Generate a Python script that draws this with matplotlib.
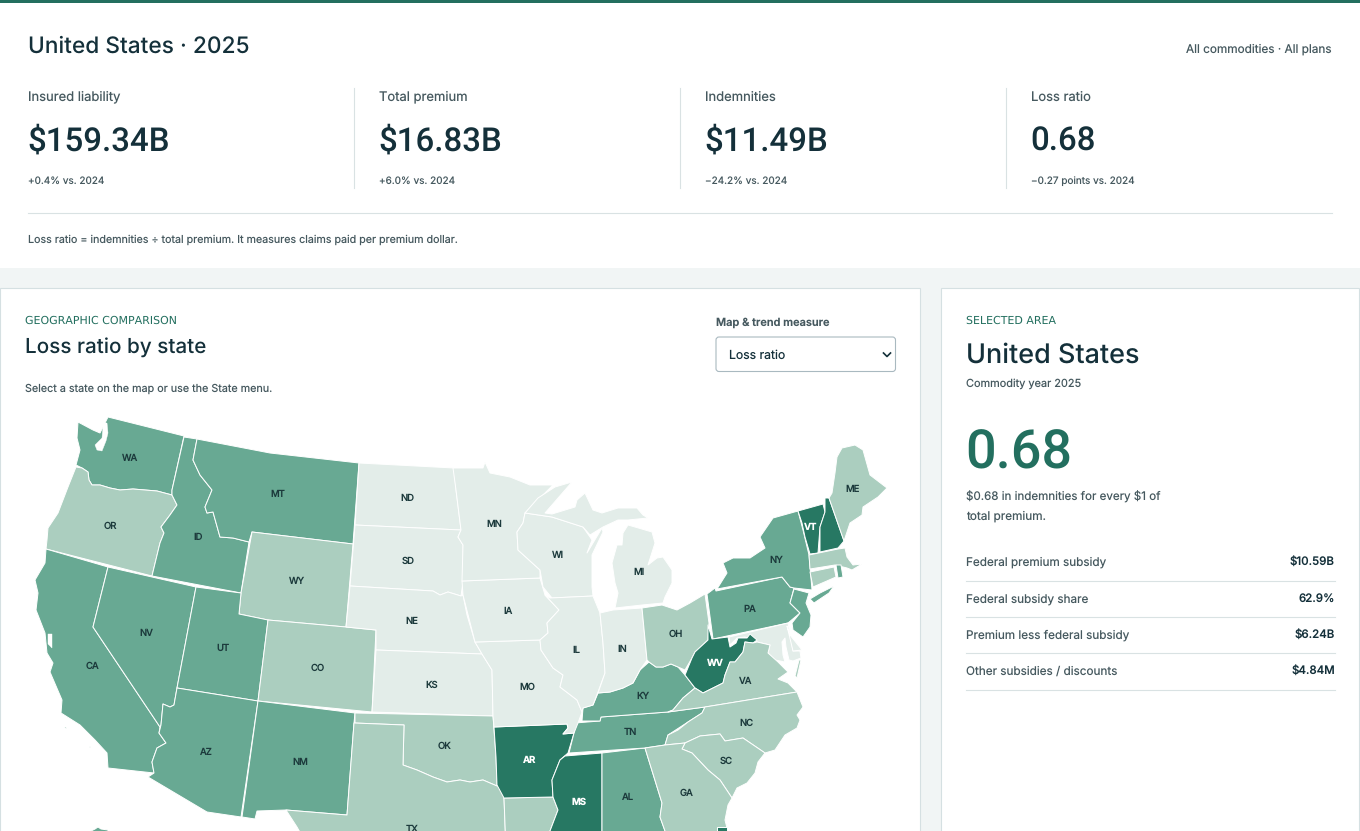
import matplotlib
matplotlib.use("Agg")
import matplotlib.pyplot as plt
from matplotlib.patches import FancyBboxPatch, Polygon, Rectangle

plt.rcParams["font.family"] = ["Inter", "DejaVu Sans"]
plt.rcParams["text.hinting"] = "none"
plt.rcParams["text.hinting_factor"] = 1

# page text and values
page_title = "United States · 2025"
page_scope = "All commodities · All plans"
kpi_labels = ["Insured liability", "Total premium", "Indemnities", "Loss ratio"]
kpi_values = ["$159.34B", "$16.83B", "$11.49B", "0.68"]
kpi_changes = ["+0.4% vs. 2024", "+6.0% vs. 2024", "−24.2% vs. 2024", "−0.27 points vs. 2024"]
kpi_note = "Loss ratio = indemnities ÷ total premium. It measures claims paid per premium dollar."
detail_labels = ["Federal premium subsidy", "Federal subsidy share", "Premium less federal subsidy", "Other subsidies / discounts"]
detail_values = ["$10.59B", "62.9%", "$6.24B", "$4.84M"]

# colour class of each state on the loss ratio scale
class_colors = ["#e3ede9", "#abcebf", "#68a993", "#277863"]
state_class = {
    "ND": 0, "SD": 0, "NE": 0, "KS": 0, "MN": 0, "IA": 0, "MO": 0, "WI": 0, "IL": 0, "IN": 0, "MI": 0, "UP": 0,
    "MD": 0, "DE": 0, "VES": 1,
    "OR": 1, "WY": 1, "CO": 1, "OK": 1, "TX": 1, "LA": 1, "OH": 1, "VA": 1, "NC": 1, "SC": 1, "GA": 1, "ME": 1,
    "MA": 1, "CT": 1,
    "WA": 2, "MT": 2, "ID": 2, "NV": 2, "CA": 2, "UT": 2, "AZ": 2, "NM": 2, "KY": 2, "TN": 2, "AL": 2, "PA": 2,
    "NY": 2, "LI": 2, "NJ": 2, "RI": 2, "AK": 2, "CI1": 2, "CI2": 2,
    "AR": 3, "MS": 3, "WV": 3, "VT": 3, "NH": 3, "FL": 3,
}

# outlines, in map units
state_shapes = {
    "WA": [(108, 417), (184, 436), (172, 490), (172, 495), (157, 491), (133, 489), (120, 490), (110, 488), (100, 485), (92, 485), (89, 480), (88, 472), (82, 468), (76, 465), (80, 450), (77, 438), (78, 422), (93, 430), (100, 433)],
    "OR": [(76, 467), (82, 468), (88, 472), (89, 480), (92, 485), (100, 485), (110, 488), (120, 490), (133, 489), (157, 491), (172, 495), (177, 505), (170, 515), (161, 527), (164, 533), (160, 543), (152, 576), (46, 549), (47, 540), (48, 528), (58, 513), (68, 487)],
    "CA": [(46, 549), (108, 567), (93, 627), (160, 727), (159, 733), (166, 743), (157, 748), (152, 762), (154, 773), (108, 768), (107, 753), (95, 740), (80, 725), (61, 713), (62, 700), (50, 672), (53, 663), (47, 653), (45, 633), (36, 610), (38, 593), (35, 580), (45, 563)],
    "NV": [(108, 567), (196, 587), (177, 688), (174, 705), (170, 707), (163, 704), (161, 725), (160, 727), (93, 627)],
    "ID": [(184, 437), (197, 439), (193, 460), (200, 475), (212, 490), (205, 507), (207, 513), (213, 512), (220, 537), (233, 538), (249, 542), (241, 593), (152, 576), (160, 543), (164, 533), (161, 527), (170, 515), (177, 505), (172, 495), (172, 490)],
    "MT": [(197, 439), (270, 453), (359, 463), (353, 544), (252, 532), (249, 542), (233, 538), (220, 537), (213, 512), (207, 513), (205, 507), (212, 490), (200, 475), (193, 460)],
    "WY": [(252, 532), (353, 544), (346, 627), (268, 620), (239, 614), (241, 593)],
    "UT": [(196, 587), (241, 593), (239, 614), (268, 620), (258, 701), (177, 688)],
    "CO": [(268, 620), (346, 627), (376, 630), (372, 712), (258, 701)],
    "AZ": [(177, 688), (258, 701), (241, 817), (207, 812), (148, 777), (154, 773), (152, 762), (157, 748), (166, 743), (159, 733), (161, 725), (163, 704), (170, 707), (174, 705)],
    "NM": [(258, 701), (355, 713), (354, 723), (347, 815), (286, 810), (257, 811), (255, 819), (242, 817)],
    "ND": [(359, 463), (454, 468), (456, 490), (461, 530), (355, 525)],
    "SD": [(355, 525), (461, 530), (458, 537), (463, 545), (463, 582), (461, 596), (448, 592), (440, 595), (433, 591), (350, 586)],
    "NE": [(350, 586), (433, 591), (440, 595), (448, 592), (461, 596), (463, 595), (467, 615), (475, 642), (482, 654), (376, 650), (376, 630), (346, 627)],
    "KS": [(376, 650), (482, 654), (487, 662), (492, 670), (493, 716), (372, 712)],
    "OK": [(355, 713), (493, 716), (496, 757), (497, 786), (483, 780), (470, 782), (460, 780), (447, 782), (433, 777), (417, 770), (403, 765), (404, 725), (355, 723)],
    "TX": [(354, 723), (404, 725), (403, 765), (417, 770), (433, 777), (447, 782), (460, 780), (470, 782), (483, 780), (497, 786), (503, 788), (504, 798), (506, 850), (310, 850), (297, 827), (286, 810), (347, 815)],
    "LA": [(504, 798), (553, 797), (558, 810), (550, 831), (548, 850), (506, 850)],
    "AR": [(494, 727), (567, 724), (568, 728), (563, 734), (574, 733), (568, 753), (560, 760), (552, 780), (553, 797), (504, 798), (497, 785), (496, 757)],
    "MS": [(565, 756), (602, 753), (602, 850), (545, 850), (550, 831), (558, 810), (553, 797), (552, 780), (560, 760)],
    "AL": [(602, 753), (645, 748), (662, 803), (660, 817), (665, 831), (665, 850), (602, 850)],
    "TN": [(575, 723), (600, 721), (601, 717), (668, 712), (705, 707), (702, 713), (688, 722), (668, 735), (665, 745), (645, 748), (569, 753), (574, 733)],
    "KY": [(582, 721), (583, 708), (593, 705), (598, 693), (610, 692), (623, 688), (633, 683), (640, 670), (649, 662), (656, 667), (663, 667), (671, 664), (678, 667), (685, 675), (695, 688), (683, 698), (673, 710), (668, 712), (601, 717), (600, 721)],
    "MO": [(475, 642), (540, 640), (541, 650), (553, 668), (563, 675), (560, 687), (577, 700), (582, 712), (578, 723), (574, 733), (563, 734), (568, 728), (567, 724), (494, 727), (493, 716), (492, 670), (487, 662), (482, 654)],
    "IA": [(462, 581), (540, 578), (545, 595), (559, 610), (547, 623), (548, 633), (540, 640), (475, 642), (463, 595)],
    "MN": [(453, 468), (483, 468), (485, 462), (490, 473), (510, 477), (530, 485), (553, 485), (525, 513), (523, 523), (517, 532), (518, 550), (540, 570), (540, 578), (462, 581), (463, 545), (458, 537), (461, 530), (456, 490)],
    "WI": [(525, 513), (552, 517), (583, 527), (590, 537), (592, 540), (587, 553), (602, 528), (603, 532), (592, 555), (592, 567), (592, 587), (593, 596), (552, 598), (543, 587), (540, 570), (518, 550), (517, 532), (523, 523)],
    "UP": [(525, 513), (538, 498), (555, 487), (572, 482), (552, 505), (545, 513), (552, 514), (575, 507), (577, 500), (585, 493), (593, 510), (602, 513), (618, 508), (637, 508), (643, 515), (648, 518), (628, 520), (618, 520), (603, 527), (590, 535), (583, 527), (552, 517)],
    "MI": [(628, 525), (635, 527), (652, 532), (655, 543), (648, 565), (657, 558), (663, 557), (672, 570), (672, 583), (665, 597), (663, 603), (642, 605), (615, 608), (618, 593), (615, 583), (612, 563), (617, 545), (622, 545), (623, 533)],
    "IL": [(550, 598), (593, 596), (600, 613), (603, 643), (605, 673), (598, 692), (593, 705), (583, 708), (582, 712), (577, 700), (560, 687), (563, 675), (553, 668), (541, 650), (540, 640), (548, 633), (547, 623), (559, 610), (545, 595)],
    "IN": [(600, 613), (613, 610), (642, 608), (647, 660), (640, 670), (633, 683), (623, 688), (610, 692), (598, 693), (605, 673), (603, 643)],
    "OH": [(642, 608), (662, 605), (677, 610), (690, 603), (705, 594), (709, 623), (708, 640), (695, 652), (692, 658), (685, 670), (678, 667), (671, 664), (663, 667), (656, 667), (649, 662), (647, 660)],
    "PA": [(707, 594), (715, 588), (716, 591), (782, 577), (790, 587), (794, 588), (790, 603), (800, 613), (788, 623), (713, 639)],
    "NY": [(717, 589), (727, 573), (723, 563), (733, 558), (750, 558), (765, 548), (760, 537), (773, 518), (798, 511), (803, 530), (809, 555), (812, 590), (794, 588), (790, 587), (782, 577)],
    "LI": [(810, 599), (820, 593), (834, 586), (829, 593), (814, 603)],
    "NJ": [(794, 589), (809, 593), (806, 603), (811, 615), (810, 627), (803, 637), (793, 630), (792, 623), (800, 613), (790, 603)],
    "VT": [(798, 511), (823, 504), (825, 512), (820, 527), (818, 553), (810, 554), (805, 537), (802, 523)],
    "NH": [(825, 498), (829, 498), (844, 541), (838, 548), (820, 552), (820, 527), (825, 512)],
    "ME": [(829, 498), (832, 493), (835, 473), (837, 457), (842, 448), (855, 445), (863, 450), (870, 475), (887, 488), (878, 497), (863, 507), (862, 515), (850, 523), (845, 538), (844, 541)],
    "MA": [(809, 555), (838, 549), (845, 548), (847, 557), (853, 565), (862, 564), (852, 570), (847, 568), (835, 565), (810, 569)],
    "CT": [(810, 572), (834, 567), (836, 577), (813, 587)],
    "RI": [(836, 565), (841, 565), (843, 577), (838, 578)],
    "MD": [(729, 637), (788, 623), (793, 651), (800, 651), (801, 658), (793, 661), (789, 660), (786, 647), (785, 638), (782, 642), (783, 655), (785, 662), (775, 660), (768, 653), (770, 645), (757, 642), (745, 637), (737, 638), (730, 645)],
    "DE": [(787, 626), (790, 635), (802, 650), (793, 651)],
    "VES": [(799, 660), (801, 660), (797, 678), (795, 676)],
    "WV": [(708, 625), (712, 639), (728, 637), (730, 647), (736, 643), (738, 638), (747, 638), (750, 634), (757, 640), (753, 643), (745, 642), (743, 652), (735, 662), (730, 662), (725, 675), (723, 683), (713, 688), (703, 693), (695, 688), (685, 675), (692, 658), (695, 652), (708, 640)],
    "VA": [(668, 712), (673, 710), (683, 698), (695, 688), (703, 693), (713, 688), (723, 683), (725, 675), (730, 662), (735, 662), (743, 652), (745, 642), (753, 643), (757, 642), (770, 645), (768, 653), (778, 662), (788, 672), (778, 679), (788, 683), (797, 692), (705, 707)],
    "NC": [(705, 707), (797, 692), (803, 707), (797, 715), (800, 720), (797, 728), (785, 735), (775, 750), (765, 753), (743, 738), (725, 741), (720, 734), (700, 736), (685, 743), (665, 745), (668, 735), (678, 730), (688, 722), (702, 713)],
    "SC": [(682, 749), (685, 743), (700, 736), (720, 734), (725, 741), (743, 738), (765, 753), (758, 762), (755, 773), (747, 783), (737, 788), (732, 798), (720, 780), (708, 770), (692, 753)],
    "GA": [(645, 748), (665, 745), (685, 743), (682, 749), (692, 753), (708, 770), (720, 780), (732, 798), (728, 805), (725, 820), (727, 828), (727, 850), (665, 850), (665, 831), (660, 817), (662, 803)],
    "FL": [(717, 827), (727, 827), (727, 850), (717, 850)],
    "AK": [(91, 831), (95, 829), (98, 827), (101, 829), (108, 830), (108, 840), (91, 840)],
    "CI1": [(64, 727), (67, 727), (66, 729)],
    "CI2": [(89, 746), (91, 746), (90, 748)],
}
water_shapes = [
    [(102, 423), (107, 423), (108, 433), (106, 441), (102, 451), (97, 450), (95, 445), (102, 438), (103, 427)],
    [(48, 634), (52, 634), (52, 648), (48, 644)],
]

label_names = ["WA", "MT", "ND", "OR", "ID", "SD", "WY", "NE", "NV", "UT", "CO", "KS", "CA", "OK", "AZ", "NM", "TX", "MN", "WI", "MI", "IA", "IL", "IN", "OH", "MO", "KY", "TN", "AR", "MS", "AL", "GA", "SC", "NC", "VA", "WV", "PA", "NY", "VT", "ME"]
label_x = [130, 278, 407, 110, 198, 408, 297, 412, 146, 223, 318, 432, 92, 445, 206, 300, 412, 494, 558, 639, 508, 576, 622, 676, 527, 643, 630, 530, 579, 628, 687, 726, 746, 746, 715, 750, 776, 811, 853]
label_y = [457, 493, 497, 525, 536, 560, 580, 620, 632, 647, 667, 684, 665, 745, 751, 761, 828, 523, 554, 571, 610, 649, 648, 633, 686, 695, 731, 759, 801, 796, 792, 760, 722, 680, 662, 608, 559, 526, 488]

INK = "#14303a"
MUTED = "#46595f"
GREEN = "#236f5f"
RULE = "#d9e2e3"
W, H = 1360, 831
NUMERALS = ["Roboto", "DejaVu Sans"]
SPACED = ["DejaVu Sans"]


def px(size):
    return size * 72 / 100


def put(ax, x, y, s, size, color=MUTED, weight=400, ha="left", family=None):
    ax.text(x, y, s, fontsize=px(size), color=color, fontweight=weight, ha=ha, va="center_baseline", parse_math=False, family=family)


def main():
    fig = plt.figure(figsize=(W / 100, H / 100), dpi=100, facecolor="white")
    page = fig.add_axes([0, 0, 1, 1])
    page.set_xlim(0, W)
    page.set_ylim(H, 0)
    page.axis("off")

    page.add_patch(Rectangle((0, 0), W, 3, color=GREEN, lw=0))
    page.add_patch(Rectangle((0, 268), W, H - 268, color="#f1f5f5", lw=0))
    page.add_patch(Rectangle((0, 288), 919.5, 600, fc="white", ec="#d5e0e2", lw=0.8))
    page.add_patch(Rectangle((940.5, 288), 418.5, 600, fc="white", ec="#d5e0e2", lw=0.8))

    put(page, 28, 44.5, page_title, 22.7, INK, 500)
    put(page, 1332, 48.5, page_scope, 11.8, MUTED, ha="right")
    for i, x in enumerate([28, 379, 705, 1031]):
        put(page, x, 95.5, kpi_labels[i], 13)
        put(page, x - 1, 138.5, kpi_values[i], 33.2, INK, 500, family=NUMERALS)
        put(page, x, 180.5, kpi_changes[i], 10)
    for x in [353.5, 679.5, 1005.5]:
        page.plot([x, x], [88, 188], color=RULE, lw=0.8)
    page.plot([28, 1332], [212.5, 212.5], color=RULE, lw=0.8)
    put(page, 28, 239, kpi_note, 10.7)

    put(page, 25, 320, "GEOGRAPHIC COMPARISON", 10.8, GREEN, 400, family=SPACED)
    put(page, 25, 345, "Loss ratio by state", 20.7, INK, 500)
    put(page, 25, 388, "Select a state on the map or use the State menu.", 10.8)
    put(page, 716, 321.5, "Map & trend measure", 11, MUTED, 600)
    page.add_patch(FancyBboxPatch((716, 337), 179.5, 34.5, boxstyle="round,pad=0,rounding_size=3", fc="white", ec="#a9b9c0", lw=0.8))
    put(page, 729, 354.5, "Loss ratio", 12.2, INK)
    page.plot([883.5, 887, 890.5], [353, 356.5, 353], color=INK, lw=1.2)

    put(page, 966, 320, "SELECTED AREA", 10.8, GREEN, 400, family=SPACED)
    put(page, 966, 353, "United States", 27, INK, 500)
    put(page, 966, 382, "Commodity year 2025", 10.95)
    put(page, 965, 448, kpi_values[3], 54, GREEN, 500, family=NUMERALS)
    put(page, 966, 495.5, "$0.68 in indemnities for every $1 of", 11.6)
    put(page, 966, 515.5, "total premium.", 11.8)
    for i, (y, rule_y) in enumerate(zip([561, 598, 634, 670], [580.5, 616.5, 652.5, 689.5])):
        put(page, 966, y, detail_labels[i], 11.75)
        put(page, 1335, y, detail_values[i], 11.5, INK, 500, ha="right")
        page.plot([966, 1335], [rule_y, rule_y], color=RULE, lw=0.8)

    # map units match the reference pixels so outlines can be read straight off it
    ax = fig.add_axes([1 / W, 0, 918 / W, 431 / H])
    ax.set_xlim(1, 919)
    ax.set_ylim(831, 400)
    ax.axis("off")
    ax.patch.set_alpha(0)
    for name, shape in state_shapes.items():
        ax.add_patch(Polygon(shape, closed=True, fc=class_colors[state_class[name]], ec="white", lw=0.7, joinstyle="round"))
    for shape in water_shapes:
        ax.add_patch(Polygon(shape, closed=True, fc="white", ec="white", lw=0.3))
    for name, x, y in zip(label_names, label_x, label_y):
        on_dark = state_class[name] == 3
        ax.text(x, y, name, fontsize=px(9.5), color="white" if on_dark else "#1c3a3c", fontweight=700 if on_dark else 500, ha="center", va="center_baseline")

    fig.savefig("out.png", dpi=100)
    plt.close(fig)


if __name__ == "__main__":
    main()
